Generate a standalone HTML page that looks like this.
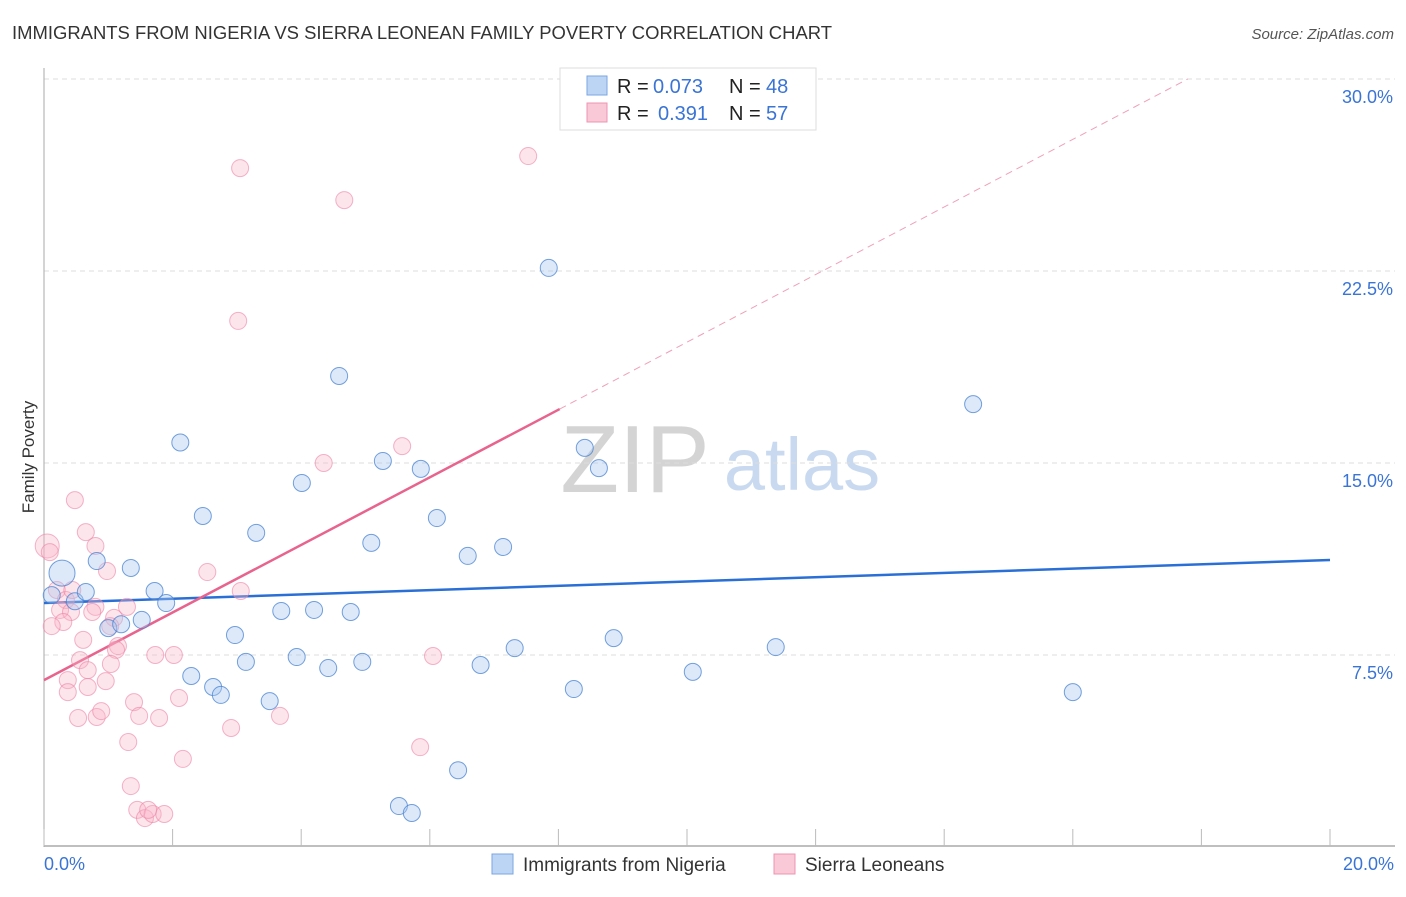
<!DOCTYPE html>
<html><head><meta charset="utf-8"><style>
body{margin:0;background:#fff;font-family:"Liberation Sans",sans-serif;}
svg text{font-family:"Liberation Sans",sans-serif;}
</style></head><body>
<svg id="chart" width="1406" height="892" xmlns="http://www.w3.org/2000/svg">
<text x="12" y="39" font-size="18" fill="#333" textLength="820" lengthAdjust="spacingAndGlyphs">IMMIGRANTS FROM NIGERIA VS SIERRA LEONEAN FAMILY POVERTY CORRELATION CHART</text>
<text x="1394" y="39" font-size="15" fill="#555" text-anchor="end" font-style="italic">Source: ZipAtlas.com</text>
<text x="34" y="457" font-size="17" fill="#333" text-anchor="middle" transform="rotate(-90 34 457)">Family Poverty</text>
<g>
<text x="635" y="492" font-size="96" fill="#d4d4d4" font-family="Liberation Serif,serif" text-anchor="middle">ZIP</text>
<text x="802" y="490" font-size="74" fill="#c9daf0" text-anchor="middle">atlas</text>
</g>
<g id="grid"></g><g id="axes"></g><g id="trends"></g><g id="pts"></g>
<g>
<rect x="560" y="68" width="256" height="62" fill="#fff" stroke="#ddd"/>
<rect x="587" y="76" width="20" height="19" fill="#bcd5f5" stroke="#7aa6e0"/>
<rect x="587" y="103" width="20" height="19" fill="#f9c9d7" stroke="#ee94b0"/>
<text x="617" y="93" font-size="20" fill="#222">R =</text>
<text x="653" y="93" font-size="20" fill="#3a74d4">0.073</text>
<text x="729" y="93" font-size="20" fill="#222">N =</text>
<text x="766" y="93" font-size="20" fill="#3a74d4">48</text>
<text x="617" y="120" font-size="20" fill="#222">R =</text>
<text x="658" y="120" font-size="20" fill="#3a74d4">0.391</text>
<text x="729" y="120" font-size="20" fill="#222">N =</text>
<text x="766" y="120" font-size="20" fill="#3a74d4">57</text>
</g>
<g>
<rect x="492" y="854" width="21" height="20" fill="#bcd5f5" stroke="#7aa6e0"/>
<text x="523" y="871" font-size="19" fill="#333">Immigrants from Nigeria</text>
<rect x="774" y="854" width="21" height="20" fill="#f9c9d7" stroke="#ee94b0"/>
<text x="805" y="871" font-size="19" fill="#333">Sierra Leoneans</text>
</g>
</svg>
<script>
const blueX=[0.28,0.12,0.48,0.65,0.82,1.0,1.2,1.35,1.52,1.72,1.9,2.12,2.29,2.47,2.63,2.75,2.97,3.14,3.3,3.51,3.69,3.93,4.01,4.2,4.42,4.59,4.77,4.95,5.09,5.27,5.52,5.72,5.86,6.11,6.44,6.59,6.79,7.14,7.32,7.85,8.24,8.41,8.63,8.86,10.09,11.38,14.45,16.0];
const blueY=[10.7,9.84,9.6,9.96,11.17,8.55,8.7,10.9,8.87,10.0,9.53,15.8,6.68,12.93,6.25,5.94,8.28,7.23,12.27,5.7,9.22,7.42,14.22,9.26,6.99,18.4,9.18,7.23,11.88,15.08,1.6,1.33,14.77,12.85,3.0,11.37,7.11,11.72,7.77,22.62,6.17,15.59,14.8,8.16,6.84,7.81,17.3,6.05];
const blueBig=[0];
const pinkX=[7.53,3.05,4.67,3.02,5.57,4.35,0.48,0.65,0.8,0.05,0.09,0.98,2.54,3.06,0.2,0.34,0.25,0.42,0.3,0.12,0.8,1.29,0.75,1.09,0.61,1.15,1.12,1.73,2.02,6.05,0.56,1.04,0.68,0.37,0.96,0.37,0.68,1.4,2.1,0.53,0.82,0.89,1.48,1.79,3.67,2.91,1.31,5.85,2.16,1.35,1.45,1.57,1.69,1.87,0.44,1.62,1.03];
const pinkY=[26.99,26.52,25.27,20.55,15.66,15.0,13.55,12.3,11.76,11.76,11.52,10.78,10.74,10.0,10.04,9.65,9.26,9.18,8.79,8.63,9.38,9.38,9.18,8.95,8.09,7.85,7.7,7.5,7.5,7.46,7.3,7.15,6.91,6.52,6.48,6.05,6.25,5.66,5.82,5.04,5.08,5.31,5.12,5.04,5.12,4.65,4.1,3.9,3.44,2.38,1.45,1.13,1.29,1.29,10.04,1.45,8.63];
const pinkBig=[9];
const blueTrend=[9.53,11.21];
const pinkTrend=[6.52,1.32];
const yTicks=[7.5,15.0,22.5,30.0];
const xTicks=[0,2,4,6,8,10,12,14,16,18,20];
const X=v=>44+v*64.3, Y=v=>847-v*25.6;
const NS="http://www.w3.org/2000/svg";
function mk(p,t,a){const e=document.createElementNS(NS,t);for(const k in a)e.setAttribute(k,a[k]);document.getElementById(p).appendChild(e);return e;}
yTicks.forEach(t=>{
 const l=mk('grid','line',{x1:44,x2:1395,y1:Y(t),y2:Y(t),stroke:'#ddd','stroke-dasharray':'5,4'});
 
 
 const tx=mk('grid','text',{x:1393,y:Y(t)+24,'font-size':18,fill:'#3a74d4','text-anchor':'end'});tx.textContent=t.toFixed(1)+'%';
 
 
});
mk('axes','line',{x1:44,x2:44,y1:68,y2:847,stroke:'#aaa'});
mk('axes','line',{x1:44,x2:1395,y1:846,y2:846,stroke:'#aaa','stroke-width':1.5});
xTicks.forEach(t=>{const l=mk('axes','line',{x1:X(t),x2:X(t),y1:829,y2:846,stroke:'#bbb'});
 
 });
[[0,'start',44],[20,'end',1394]].forEach(([v,a,x])=>{const t=mk('axes','text',{x:x,y:870,'font-size':18,fill:'#3a74d4','text-anchor':a});t.textContent=v.toFixed(1)+'%';
 
 });
const bt=mk('trends','line',{x1:X(0),y1:Y(blueTrend[0]),x2:X(20),y2:Y(blueTrend[1]),stroke:'#2a6fd6','stroke-width':2.5});


const xe=8.02, xd=(30-pinkTrend[0])/pinkTrend[1];
const pt=mk('trends','line',{x1:X(0),y1:Y(pinkTrend[0]),x2:X(xe),y2:Y(pinkTrend[0]+pinkTrend[1]*xe),stroke:'#e8638e','stroke-width':2.5});


const pd=mk('trends','line',{x1:X(xe),y1:Y(pinkTrend[0]+pinkTrend[1]*xe),x2:X(xd),y2:Y(30),stroke:'#f0a0b8','stroke-width':1,'stroke-dasharray':'7,5'});


pinkX.forEach((x,i)=>{const c=mk('pts','circle',{cx:X(x),cy:Y(pinkY[i]),r:pinkBig.includes(i)?12:8.5,fill:'rgba(248,180,200,0.35)',stroke:'rgba(236,130,165,0.6)','stroke-width':1});
 
 });
blueX.forEach((x,i)=>{const c=mk('pts','circle',{cx:X(x),cy:Y(blueY[i]),r:blueBig.includes(i)?13:8.5,fill:'rgba(170,200,240,0.4)',stroke:'rgba(70,130,210,0.75)','stroke-width':1});
 
 });
</script>
</body></html>
